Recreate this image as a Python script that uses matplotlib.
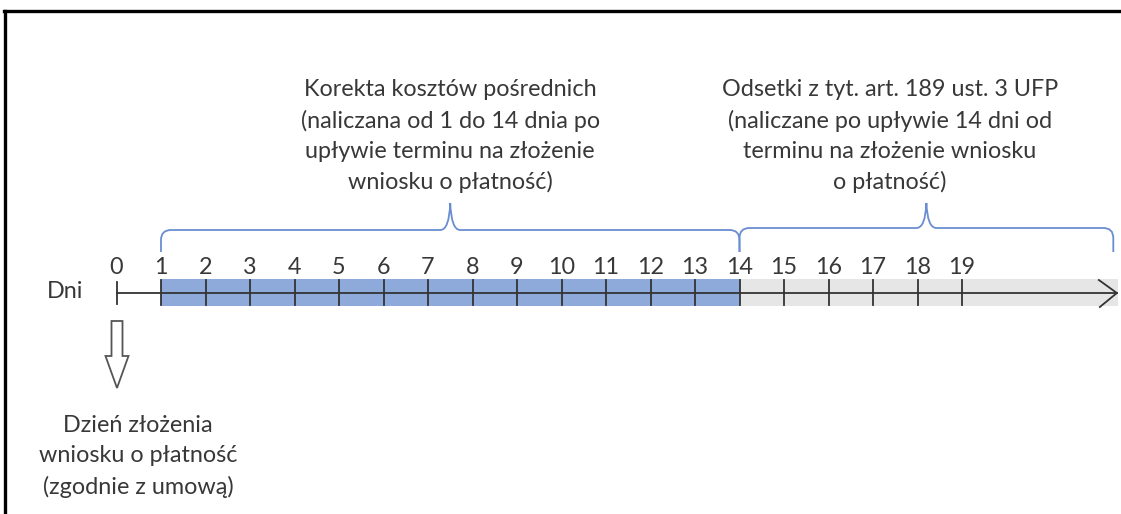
import matplotlib
matplotlib.use("Agg")
import matplotlib.pyplot as plt
from matplotlib.path import Path
from matplotlib.patches import PathPatch, Polygon, Rectangle
from matplotlib.lines import Line2D

# ---------------- data ----------------
days = list(range(0, 20))
day_labels = [str(d) for d in days]
blue_start, blue_end = 1, 14
axis_end = 22.48
brace1_span = (1, 14)
brace2_span = (14, 22.4)
text1_lines = ["Korekta kosztów pośrednich",
               "(naliczana od 1 do 14 dnia po",
               "upływie terminu na złożenie",
               "wniosku o płatność)"]
text2_lines = ["Odsetki z tyt. art. 189 ust. 3 UFP",
               "(naliczane po upływie 14 dni od",
               "terminu na złożenie wniosku",
               "o płatność)"]
text3_lines = ["Dzień złożenia",
               "wniosku o płatność",
               "(zgodnie z umową)"]
axis_label = "Dni"

# ---------------- layout ----------------
W, H, DPI = 1121, 514, 100
PX0, PXD = 116.5, 44.5   # pixel of day 0, pixels per day

fig = plt.figure(figsize=(W / DPI, H / DPI), dpi=DPI)
ax = fig.add_axes([0, 0, 1, 1])
ax.set_xlim(-PX0 / PXD, (W - PX0) / PXD)
ax.set_ylim(H, 0)
ax.axis("off")

FONT = ["Lato", "DejaVu Sans"]
TXT = "#383838"
FS = 16.8
u = 1.0 / PXD  # one pixel in day units

# bands
ax.add_patch(Rectangle((blue_end, 279), axis_end + 0.02 - blue_end, 27,
                       facecolor="#e6e6e6", edgecolor="none", zorder=1))
ax.add_patch(Rectangle((blue_start, 279), blue_end - blue_start, 27,
                       facecolor="#8eaadb", edgecolor="none", zorder=2))

# main axis line
ax.plot([days[0], axis_end], [293, 293], color="#333333", lw=1.3, zorder=3)
# right chevron
ax.plot([axis_end - 18 * u, axis_end, axis_end - 17 * u], [280, 293, 307],
        color="#333333", lw=1.3, zorder=3)

# ticks
for d in days:
    if d == 0:
        ax.plot([d, d], [282, 304], color="#333333", lw=1.3, zorder=3)
    else:
        ax.plot([d, d], [280, 305], color="#333333", lw=1.3, zorder=3)
    ax.text(d, 268, day_labels[d], ha="center", va="center", fontsize=FS,
            family=FONT, color=TXT)

ax.text((65 - PX0) / PXD, 292, axis_label, ha="center", va="center",
        fontsize=FS, family=FONT, color=TXT)


# braces
def brace(x0, x1, ybase, ytop, ytip, color="#6a8dd2"):
    xm = (x0 + x1) / 2
    r = 10 * u
    verts = [(x0, ybase), (x0, ytop + 10), (x0, ytop), (x0 + r, ytop),
             (xm - r, ytop), (xm - 1 * u, ytop), (xm, ytip),
             (xm + 1 * u, ytop), (xm + r, ytop),
             (x1 - r, ytop), (x1, ytop), (x1, ytop + 10), (x1, ybase)]
    codes = [Path.MOVETO, Path.LINETO, Path.CURVE3, Path.CURVE3,
             Path.LINETO, Path.CURVE3, Path.CURVE3,
             Path.CURVE3, Path.CURVE3,
             Path.LINETO, Path.CURVE3, Path.CURVE3, Path.LINETO]
    ax.add_patch(PathPatch(Path(verts, codes), facecolor="none",
                           edgecolor=color, lw=1.3, zorder=4))


brace(brace1_span[0], brace1_span[1], 252, 230, 203)
brace(brace2_span[0], brace2_span[1], 252, 228, 203)

# text blocks
ys = [90, 121, 151, 182]
for i, t in enumerate(text1_lines):
    ax.text(7.5, ys[i], t, ha="center", va="center", fontsize=FS,
            family=FONT, color=TXT)
x2 = (890 - PX0) / PXD
for i, t in enumerate(text2_lines):
    ax.text(x2, ys[i], t, ha="center", va="center", fontsize=FS,
            family=FONT, color=TXT)
x3 = (138 - PX0) / PXD
for i, t in enumerate(text3_lines):
    ax.text(x3, [425, 456, 487][i], t, ha="center", va="center", fontsize=FS,
            family=FONT, color=TXT)

# hollow down arrow
ax.add_patch(Polygon([(-5 * u, 321), (6 * u, 321), (6 * u, 356), (12 * u, 356),
                      (0.5 * u, 388), (-11 * u, 356), (-5 * u, 356)],
                     closed=True, facecolor="white", edgecolor="#555555",
                     lw=1.3, zorder=4))

# frame (top and left border)
fig.add_artist(Line2D([4 / W, 1], [1 - 10.5 / H, 1 - 10.5 / H],
                      color="black", lw=2.4, transform=fig.transFigure))
fig.add_artist(Line2D([4.5 / W, 4.5 / W], [0, 1 - 10.5 / H],
                      color="black", lw=2.4, transform=fig.transFigure))

fig.savefig("out.png", dpi=DPI, facecolor="white")
